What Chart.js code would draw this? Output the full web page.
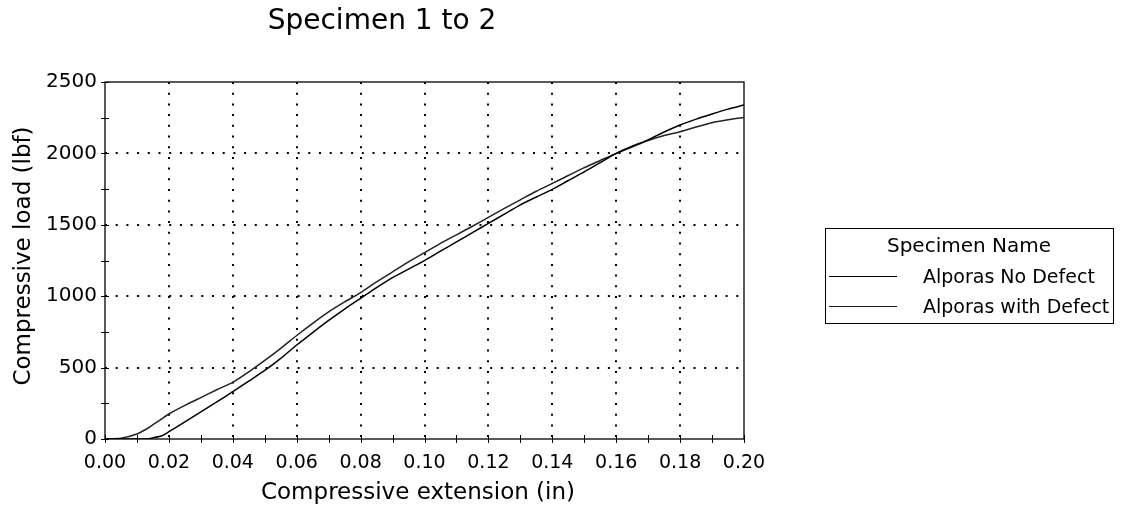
<!DOCTYPE html>
<html>
<head>
<meta charset="utf-8">
<title>Specimen 1 to 2</title>
<script src="https://cdn.jsdelivr.net/npm/chart.js@4/dist/chart.umd.min.js"></script>
<style>
  html, body { margin: 0; padding: 0; background: #fff; }
  #wrap { position: relative; width: 1126px; height: 520px; }
</style>
</head>
<body>
<div id="wrap"><canvas id="chart" width="1126" height="520"></canvas></div>
<script>
// Compressive extension (in)
const extension = [
  0.000, 0.005, 0.010, 0.013, 0.015, 0.018, 0.020, 0.025, 0.030, 0.035,
  0.040, 0.045, 0.050, 0.055, 0.060, 0.065, 0.070, 0.075, 0.080, 0.085,
  0.090, 0.095, 0.100, 0.105, 0.110, 0.115, 0.120, 0.125, 0.130, 0.135,
  0.140, 0.145, 0.150, 0.155, 0.160, 0.165, 0.170, 0.175, 0.180, 0.185,
  0.190, 0.195, 0.200
];

// Compressive load (lbf)
const loadNoDefect = [
  0, 0, 0, 0, 8, 25, 51, 120, 190, 260,
  331, 405, 480, 565, 658, 745, 830, 910, 985, 1060,
  1130, 1190, 1249, 1315, 1380, 1445, 1510, 1575, 1640, 1695,
  1748, 1810, 1870, 1935, 2000, 2050, 2095, 2150, 2199, 2240,
  2276, 2310, 2339
];

const loadWithDefect = [
  0, 5, 35, 70, 100, 145, 175, 235, 290, 345,
  397, 470, 550, 635, 725, 810, 890, 960, 1025, 1100,
  1170, 1240, 1305, 1370, 1430, 1490, 1552, 1615, 1675, 1735,
  1790, 1845, 1900, 1950, 2000, 2045, 2090, 2125, 2152, 2185,
  2215, 2235, 2252
];

const seriesNames = ['Alporas No Defect', 'Alporas with Defect'];
const chartTitle = 'Specimen 1 to 2';
const xTitle = 'Compressive extension (in)';
const yTitle = 'Compressive load (lbf)';
const legendTitle = 'Specimen Name';

const FONT = '"DejaVu Sans", Verdana, sans-serif';

function pts(xs, ys) { return xs.map((x, i) => ({ x: x, y: ys[i] })); }

// Frame, crossing tick marks, titles and the boxed legend
const decor = {
  id: 'decor',
  afterDatasetsDraw(chart) {
    const ctx = chart.ctx;
    const a = chart.chartArea;
    const xs = chart.scales.x, ys = chart.scales.y;
    ctx.save();
    ctx.strokeStyle = '#000';
    ctx.lineWidth = 1.3;
    ctx.setLineDash([]);
    ctx.strokeRect(a.left, a.top, a.right - a.left, a.bottom - a.top);

    ctx.lineWidth = 1;
    ctx.beginPath();
    xs.ticks.forEach(t => {
      const px = Math.round(xs.getPixelForValue(t.value)) + 0.5;
      ctx.moveTo(px, a.bottom - 4);
      ctx.lineTo(px, a.bottom + 4);
    });
    ys.ticks.forEach(t => {
      const py = Math.round(ys.getPixelForValue(t.value)) + 0.5;
      ctx.moveTo(a.left - 4, py);
      ctx.lineTo(a.left + 4, py);
    });
    ctx.stroke();

    ctx.fillStyle = '#000';
    ctx.textAlign = 'center';
    ctx.textBaseline = 'middle';
    ctx.font = '28px ' + FONT;
    ctx.fillText(chartTitle, 382, 22);

    ctx.font = '23px ' + FONT;
    ctx.fillText(xTitle, 418, 493);

    ctx.save();
    ctx.translate(24, 256);
    ctx.rotate(-Math.PI / 2);
    ctx.fillText(yTitle, 0, 0);
    ctx.restore();

    // legend box
    const bx = 825, by = 228, bw = 288, bh = 95;
    ctx.lineWidth = 1;
    ctx.strokeRect(bx + 0.5, by + 0.5, bw, bh);
    ctx.font = '20px ' + FONT;
    ctx.fillText(legendTitle, bx + bw / 2, 247);
    ctx.font = '19px ' + FONT;
    ctx.textAlign = 'left';
    const rows = [278, 308];
    chart.data.datasets.forEach((ds, i) => {
      const y = rows[i];
      ctx.strokeStyle = ds.borderColor;
      ctx.lineWidth = 1.2;
      ctx.beginPath();
      ctx.moveTo(829, y - 1.5);
      ctx.lineTo(897, y - 1.5);
      ctx.stroke();
      ctx.fillStyle = '#000';
      ctx.fillText(ds.label, 923, y);
    });
    ctx.restore();
  }
};

function dotted(isMajor) {
  return ctx => (ctx.tick && isMajor(ctx.tick.value)) ? '#000' : 'rgba(0,0,0,0)';
}

new Chart(document.getElementById('chart'), {
  type: 'line',
  data: {
    datasets: [
      { label: seriesNames[0], data: pts(extension, loadNoDefect), borderColor: '#000', borderWidth: 1.5, pointRadius: 0, tension: 0.2, fill: false },
      { label: seriesNames[1], data: pts(extension, loadWithDefect), borderColor: '#222', borderWidth: 1.5, pointRadius: 0, tension: 0.2, fill: false }
    ]
  },
  options: {
    responsive: false,
    animation: false,
    devicePixelRatio: 1,
    layout: { padding: { left: 0, top: 82, right: 382, bottom: 0 } },
    plugins: { legend: { display: false }, title: { display: false }, tooltip: { enabled: false } },
    scales: {
      x: {
        type: 'linear', min: 0, max: 0.2,
        afterFit(s) { s.height = 81; },
        ticks: {
          stepSize: 0.01, padding: 13, color: '#000', font: { family: FONT, size: 19 },
          autoSkip: false, maxRotation: 0,
          callback: v => (Math.round(v * 100) % 2 === 0) ? v.toFixed(2) : ''
        },
        grid: {
          drawTicks: false, lineWidth: 2,
          color: dotted(v => { const k = Math.round(v * 100); return k % 2 === 0 && k > 0 && k < 20; })
        },
        border: { display: false, dash: [2, 8.7] }
      },
      y: {
        type: 'linear', min: 0, max: 2500,
        afterFit(s) { s.width = 105; },
        ticks: {
          stepSize: 250, padding: 8, color: '#000', font: { family: FONT, size: 20 },
          autoSkip: false,
          callback: v => (v % 500 === 0) ? String(v) : ''
        },
        grid: {
          drawTicks: false, lineWidth: 2,
          color: dotted(v => v % 500 === 0 && v > 0 && v < 2500)
        },
        border: { display: false, dash: [2, 8.7] }
      }
    }
  },
  plugins: [decor]
});
</script>
</body>
</html>
